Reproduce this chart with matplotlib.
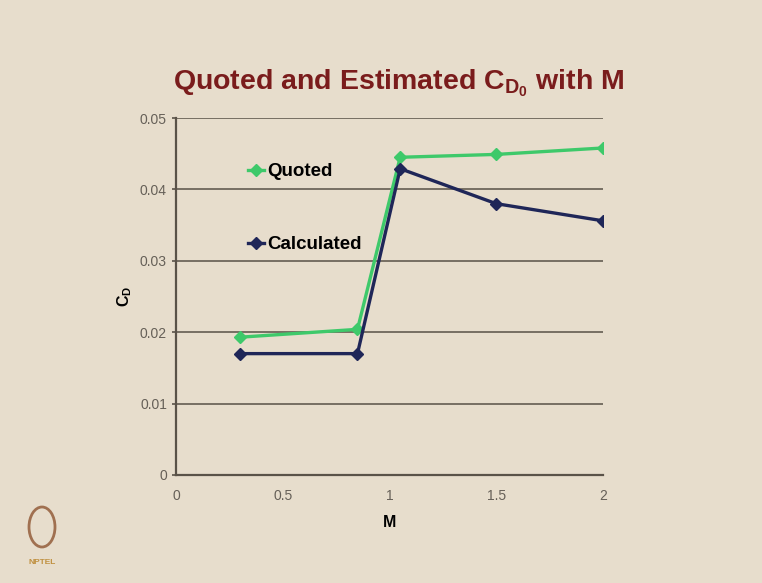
import matplotlib.pyplot as plt
from matplotlib.patches import Ellipse

# values
mach = [0.3, 0.85, 1.05, 1.5, 2.0]
cd_quoted = [0.0193, 0.0204, 0.0445, 0.0449, 0.0458]
cd_calculated = [0.0170, 0.0170, 0.0429, 0.0380, 0.0356]
x_ticks = [0, 0.5, 1, 1.5, 2]
x_tick_labels = ["0", "0.5", "1", "1.5", "2"]
y_ticks = [0, 0.01, 0.02, 0.03, 0.04, 0.05]
y_tick_labels = ["0", "0.01", "0.02", "0.03", "0.04", "0.05"]

bg = "#e7ddcc"
sans = ["Liberation Sans", "DejaVu Sans"]

plt.rcParams["font.family"] = sans
plt.rcParams["mathtext.fontset"] = "custom"
plt.rcParams["mathtext.rm"] = "Liberation Sans:bold"
plt.rcParams["mathtext.it"] = "Liberation Sans:bold"

fig = plt.figure(figsize=(7.62, 5.83), dpi=100, facecolor=bg)
ax = fig.add_axes([176 / 762, 1 - 475 / 583, 427 / 762, 357 / 583])
ax.set_facecolor(bg)

ax.plot(mach, cd_quoted, color="#3ec96a", lw=2.4, marker="D", ms=6,
        label="Quoted", zorder=3)
ax.plot(mach, cd_calculated, color="#1f2658", lw=2.4, marker="D", ms=6,
        label="Calculated", zorder=3)

ax.set_xlim(0, 2)
ax.set_ylim(0, 0.05)
ax.set_xticks(x_ticks)
ax.set_xticklabels(x_tick_labels)
ax.set_yticks(y_ticks)
ax.set_yticklabels(y_tick_labels)
ax.tick_params(colors="#5a5248", labelcolor="#666058", labelsize=10,
               length=3, width=1.2)
ax.tick_params(axis="x", length=0, pad=10)

for s in ["top", "right"]:
    ax.spines[s].set_visible(False)
for s in ["left", "bottom"]:
    ax.spines[s].set_color("#5a5248")
    ax.spines[s].set_linewidth(1.6)
ax.yaxis.grid(True, color="#6e665b", lw=1.3)
ax.set_axisbelow(True)

ax.set_xlabel("M", fontsize=11.5, fontweight="bold", labelpad=9)
ax.set_ylabel("C$_\\mathrm{D}$", fontsize=11.5, fontweight="bold", labelpad=4)

leg = ax.legend(loc="upper left", bbox_to_anchor=(0.15, 0.895), frameon=False,
                handlelength=0.9, handletextpad=0.15, labelspacing=3.0,
                borderaxespad=0, prop={"family": sans, "weight": "bold", "size": 13.5})

fig.text(0.523, 1 - 89 / 583, "Quoted and Estimated C$_{D_0}$ with M",
         ha="center", va="baseline", fontsize=20.5, fontweight="bold",
         color="#7a1c1c")

# NPTEL logo, roughly
fig.patches.append(Ellipse((42 / 762, 1 - 527 / 583), 26 / 762, 40 / 583,
                           transform=fig.transFigure, fill=False,
                           ec="#a07050", lw=2))
fig.text(42 / 762, 1 - 562 / 583, "NPTEL", ha="center", va="center",
         fontsize=6, fontweight="bold", color="#c09040")

fig.savefig("out.png", dpi=100, facecolor=bg)
